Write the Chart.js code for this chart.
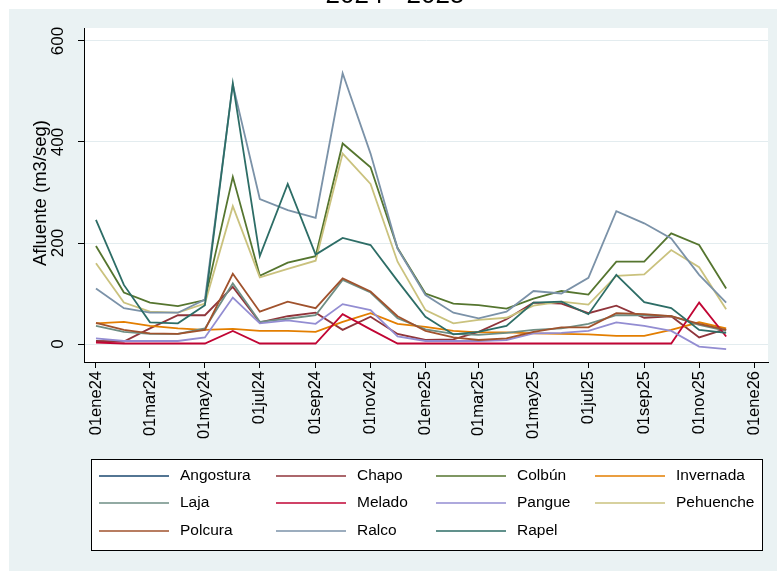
<!DOCTYPE html>
<html>
<head>
<meta charset="utf-8">
<script src="https://cdn.jsdelivr.net/npm/chart.js@4.4.1/dist/chart.umd.min.js"></script>
<style>
html,body{margin:0;padding:0;background:#ffffff;}
#wrap{position:relative;width:777px;height:571px;}
canvas{display:block;}
</style>
</head>
<body>
<div id="wrap"><canvas id="c" width="777" height="571"></canvas></div>
<script>
// ---- data ----
const months = ["2024-01-01","2024-02-01","2024-03-01","2024-04-01","2024-05-01","2024-06-01",
  "2024-07-01","2024-08-01","2024-09-01","2024-10-01","2024-11-01","2024-12-01",
  "2025-01-01","2025-02-01","2025-03-01","2025-04-01","2025-05-01","2025-06-01",
  "2025-07-01","2025-08-01","2025-09-01","2025-10-01","2025-11-01","2025-12-01"];

const seriesNames = ["Angostura","Chapo","Colbún","Invernada","Laja","Melado","Pangue","Pehuenche","Polcura","Ralco","Rapel"];

const angostura = [null,null,null,null,null,null,null,null,null,null,null,null,null,null,null,null,null,null,null,null,null,null,null,null];
const chapo     = [6,5,31,57,57,113,43,55,62,28,54,20,8,9,24,49,82,80,61,76,52,55,13,30];
const colbun    = [194,102,82,75,87,331,135,161,174,397,350,190,100,80,77,70,90,105,98,163,163,219,196,110];
const invernada = [41,44,36,31,28,30,26,26,24,44,61,40,34,26,23,23,21,20,19,16,16,28,43,31];
const laja      = [36,24,20,20,31,120,44,50,57,127,102,51,29,20,18,22,28,31,40,57,57,55,38,26];
const melado    = [3,1,1,1,1,26,1,1,1,59,29,1,1,1,1,1,1,1,1,1,1,1,82,15];
const pangue    = [11,6,6,6,13,92,41,47,40,79,67,15,6,6,6,8,21,22,26,43,36,26,-5,-10];
const pehuenche = [160,82,64,62,80,273,132,149,165,377,317,163,67,41,48,52,76,84,78,135,138,186,152,69];
const polcura   = [42,28,21,20,28,139,64,84,71,130,104,55,26,13,8,11,24,33,33,61,59,55,40,28];
const ralco     = [110,71,62,62,88,514,287,265,250,536,377,189,97,62,51,64,105,100,131,263,239,209,137,82];
const rapel     = [246,117,43,41,77,516,174,317,177,210,196,125,54,19,24,36,82,84,59,137,83,71,28,22];

const xTickDates  = ["2024-01-01","2024-03-01","2024-05-01","2024-07-01","2024-09-01","2024-11-01",
  "2025-01-01","2025-03-01","2025-05-01","2025-07-01","2025-09-01","2025-11-01","2026-01-01"];
const xTickLabels = ["01ene24","01mar24","01may24","01jul24","01sep24","01nov24",
  "01ene25","01mar25","01may25","01jul25","01sep25","01nov25","01ene26"];
const yTicks = [0,200,400,600];

const titleText = "2024 - 2025";
const yTitle = "Afluente (m3/seg)";

// ---- styling ----
const seriesValues = [angostura,chapo,colbun,invernada,laja,melado,pangue,pehuenche,polcura,ralco,rapel];
const colors = ['#1a476f','#90353b','#55752f','#e37e00','#6e8e84','#c10534','#938dd2','#cac27e','#a0522d','#7b92a8','#2d6d66'];
const FONT = "'Liberation Sans', Arial, Helvetica, sans-serif";
const BG = '#eaf2f3';

const base = Date.UTC(2024,0,1);
function dayOffset(s){ const p = s.split('-').map(Number); return (Date.UTC(p[0],p[1]-1,p[2]) - base)/86400000; }
const xs = months.map(dayOffset);

const datasets = seriesNames.map((n,i)=>({
  label: n,
  data: seriesValues[i].map((v,j)=>({x: xs[j], y: v})),
  borderColor: colors[i],
  backgroundColor: colors[i],
  borderWidth: 1.8,
  pointRadius: 0,
  tension: 0,
  fill: false,
  spanGaps: false,
  order: seriesNames.length - i
}));

const bgPlugin = {
  id: 'bg',
  beforeDraw(chart){
    const ctx = chart.ctx, a = chart.chartArea;
    ctx.save();
    ctx.fillStyle = '#ffffff';
    ctx.fillRect(0,0,chart.width,chart.height);
    ctx.fillStyle = BG;
    ctx.fillRect(9,9,chart.width-9,chart.height-9);
    ctx.fillStyle = '#ffffff';
    ctx.fillRect(a.left,a.top,a.right-a.left,a.bottom-a.top);
    // title (partly cut off at top)
    ctx.fillStyle = '#000';
    ctx.font = "26px " + FONT;
    ctx.textAlign = 'center';
    ctx.textBaseline = 'alphabetic';
    ctx.fillText(titleText, 395, 3);
    ctx.restore();
  }
};

const yLabelPlugin = {
  id: 'ylabels',
  afterDraw(chart){
    const ctx = chart.ctx, ys = chart.scales.y, a = chart.chartArea;
    ctx.save();
    ctx.fillStyle = '#000';
    ctx.textAlign = 'center';
    ctx.textBaseline = 'middle';
    ctx.font = "17px " + FONT;
    ys.ticks.forEach(t=>{
      const py = ys.getPixelForValue(t.value);
      ctx.save();
      ctx.translate(58, py);
      ctx.rotate(-Math.PI/2);
      ctx.fillText(String(t.value), 0, 0);
      ctx.restore();
    });
    ctx.font = "18.5px " + FONT;
    ctx.save();
    ctx.translate(41, (a.top + a.bottom)/2 - 2);
    ctx.rotate(-Math.PI/2);
    ctx.fillText(yTitle, 0, 0);
    ctx.restore();
    ctx.restore();
  }
};

const legendPlugin = {
  id: 'boxlegend',
  afterDraw(chart){
    const ctx = chart.ctx;
    const colX = [99, 276, 436, 595];
    const rowY = [476, 503, 531];
    ctx.save();
    ctx.fillStyle = '#ffffff';
    ctx.fillRect(91.5, 459.5, 671, 91);
    ctx.strokeStyle = '#000';
    ctx.lineWidth = 1;
    ctx.strokeRect(91.5, 459.5, 671, 91);
    ctx.font = "15.5px " + FONT;
    ctx.textAlign = 'left';
    ctx.textBaseline = 'middle';
    chart.data.datasets.forEach((ds, i)=>{
      const c = i % 4, r = Math.floor(i / 4);
      const x = colX[c], y = rowY[r];
      ctx.strokeStyle = ds.borderColor;
      ctx.lineWidth = 1.6;
      ctx.beginPath();
      ctx.moveTo(x, y);
      ctx.lineTo(x + 70, y);
      ctx.stroke();
      ctx.fillStyle = '#000';
      ctx.fillText(ds.label, x + 81, y);
    });
    ctx.restore();
  }
};

new Chart(document.getElementById('c'), {
  type: 'line',
  data: { datasets },
  plugins: [bgPlugin, yLabelPlugin, legendPlugin],
  options: {
    responsive: false,
    animation: false,
    devicePixelRatio: 1,
    layout: { padding: { top: 28, right: 7, left: 0, bottom: 0 } },
    plugins: { legend: { display: false }, tooltip: { enabled: false }, title: { display: false } },
    scales: {
      x: {
        type: 'linear',
        min: -13.3,
        max: 746.5,
        afterBuildTicks: s => { s.ticks = xTickDates.map(d => ({ value: dayOffset(d) })); },
        afterFit: s => { s.height = 209; },
        ticks: {
          autoSkip: false, maxRotation: 90, minRotation: 90, padding: 3,
          color: '#000', font: { family: FONT, size: 16.5 },
          callback: (v, i) => xTickLabels[i]
        },
        grid: { drawOnChartArea: false, drawTicks: true, tickLength: 6, tickColor: '#000', tickWidth: 1 },
        border: { display: true, color: '#000', width: 1 }
      },
      y: {
        min: -35.6,
        max: 625.7,
        afterBuildTicks: s => { s.ticks = yTicks.map(v => ({ value: v })); },
        afterFit: s => { s.width = 84; },
        ticks: { display: false },
        grid: { color: '#e3ecef', lineWidth: 1, drawTicks: true, tickLength: 6, tickColor: '#000', tickWidth: 1 },
        border: { display: true, color: '#000', width: 1 }
      }
    }
  }
});
</script>
</body>
</html>
